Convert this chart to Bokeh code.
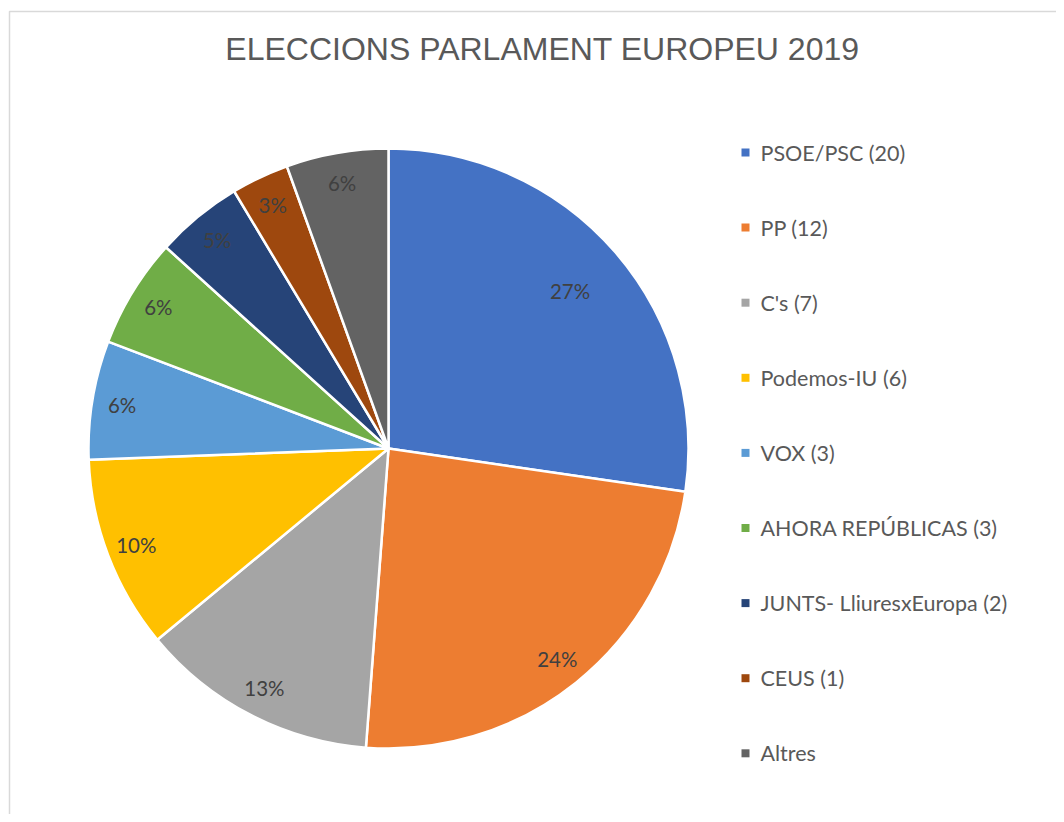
import math
from bokeh.plotting import figure
from bokeh.models import Range1d, ColumnDataSource
from bokeh.core.properties import value
from bokeh.embed import file_html
from bokeh.resources import INLINE

# ---- data ----
parties = ["PSOE/PSC (20)", "PP (12)", "C's (7)", "Podemos-IU (6)", "VOX (3)",
           "AHORA REPÚBLICAS (3)", "JUNTS- LliuresxEuropa (2)", "CEUS (1)", "Altres"]
shares = [27.3, 23.9, 12.8, 10.4, 6.4, 5.9, 4.7, 3.1, 5.5]
colors = ["#4472C4", "#ED7D31", "#A5A5A5", "#FFC000", "#5B9BD5",
          "#70AD47", "#264478", "#9E480E", "#636363"]
title = "ELECCIONS PARLAMENT EUROPEU 2019"

W, H = 1056, 814
p = figure(width=W, height=H, output_backend="svg", toolbar_location=None,
           x_range=Range1d(0, W), y_range=Range1d(0, H), min_border=0)
p.axis.visible = False
p.grid.visible = False
p.outline_line_color = None
p.background_fill_color = "white"
p.border_fill_color = "white"

def Y(page_y):
    return H - page_y

def X(page_x):
    return page_x

# chart frame (light gray)
p.line(x=[X(9), X(9), X(1200)], y=[-20, Y(11), Y(11)], line_color="#D9D9D9", line_width=1.5)

# pie
cx, cy, r = X(388), Y(448), 300
total = sum(shares)
starts, ends, lx, ly, labels = [], [], [], [], []
cum = 0.0
for v in shares:
    a0 = math.pi / 2 - 2 * math.pi * cum / total
    cum += v
    a1 = math.pi / 2 - 2 * math.pi * cum / total
    starts.append(a1)
    ends.append(a0)
    mid = (a0 + a1) / 2
    rl = (0.8 if v > 25 else 0.9) * r
    lx.append(cx + rl * math.cos(mid))
    ly.append(cy + rl * math.sin(mid))
    labels.append(f"{round(v)}%")

src = ColumnDataSource(dict(start=starts, end=ends, color=colors, lx=lx, ly=ly, label=labels))
p.wedge(x=cx, y=cy, radius=r, start_angle="start", end_angle="end", fill_color="color",
        line_color="white", line_width=2.5, source=src)
p.text(x="lx", y="ly", text="label", source=src, text_align="center", text_baseline="middle",
       text_font=value("Lato"), text_font_size="20.5px", text_color="#404040")

# title
p.text(x=[X(542)], y=[Y(48)], text=[title], text_align="center", text_baseline="middle",
       text_font=value("Liberation Sans"), text_font_size="32px", text_color="#595959")

# legend
leg_y = [Y(152 + i * 75.1) for i in range(len(parties))]
p.rect(x=[X(745)] * len(parties), y=leg_y, width=8, height=8, fill_color=colors, line_color=None)
p.text(x=[X(760)] * len(parties), y=leg_y, text=parties, text_align="left", text_baseline="middle",
       text_font=value("Lato"), text_font_size="21.5px", text_color="#595959")

open("out.html", "w").write(file_html(p, INLINE))
